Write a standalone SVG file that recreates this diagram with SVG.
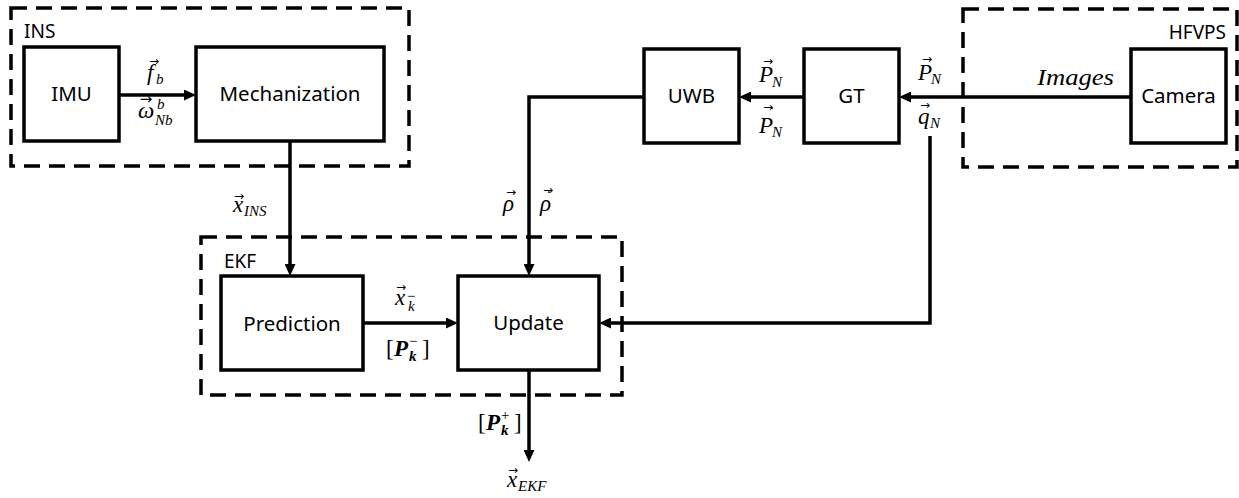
<svg xmlns="http://www.w3.org/2000/svg" width="1239" height="498" viewBox="0 0 1239 498">
<defs>
<style>
.box{fill:#fff;stroke:#000;stroke-width:3.5}
.grp{fill:none;stroke:#000;stroke-width:3.5;stroke-dasharray:16 9}
.conn{fill:none;stroke:#000;stroke-width:3.5}
.lbl{font-family:"Noto Sans","Open Sans",sans-serif;font-size:20.5px;text-anchor:middle;fill:#000}
.glbl{font-family:"Noto Sans","Open Sans",sans-serif;font-size:19px;fill:#000}
.mi{font-family:"Liberation Serif","DejaVu Serif",serif;font-style:italic;font-size:23px;fill:#000}
.ms{font-size:15px}
.mb{font-weight:bold}
.mu{font-style:normal}
.ac{font-family:"DejaVu Sans",sans-serif;font-style:normal;font-size:12px}
.dt{font-style:normal;font-size:17px}
</style>
<marker id="ah" markerUnits="userSpaceOnUse" markerWidth="12" markerHeight="11" refX="6" refY="5.5" orient="auto">
<path d="M0,0 L12,5.5 L0,11 z" fill="#000"/>
</marker>
</defs>
<rect width="1239" height="498" fill="#fff"/>

<g id="group-INS">
<rect class="grp" x="11" y="8" width="398" height="158"/>
<text class="glbl" x="24" y="38">INS</text>
</g>
<g id="group-HFVPS">
<rect class="grp" x="963" y="9" width="274" height="158"/>
<text class="glbl" x="1226" y="39" text-anchor="end">HFVPS</text>
</g>
<g id="group-EKF">
<rect class="grp" x="201" y="237" width="421" height="158"/>
<text class="glbl" x="224" y="268">EKF</text>
</g>

<g id="connectors">
<path class="conn" d="M119,95 H190" marker-end="url(#ah)"/>
<path class="conn" d="M290,141 V270" marker-end="url(#ah)"/>
<path class="conn" d="M644,97 H529 V270" marker-end="url(#ah)"/>
<path class="conn" d="M804,97 H745" marker-end="url(#ah)"/>
<path class="conn" d="M1131,97 H905" marker-end="url(#ah)"/>
<path class="conn" d="M930,136 V323 H605" marker-end="url(#ah)"/>
<path class="conn" d="M363,323 H452" marker-end="url(#ah)"/>
<path class="conn" d="M529,370 V456" marker-end="url(#ah)"/>
</g>

<g id="node-IMU">
<rect class="box" x="24" y="47" width="95" height="94"/>
<text class="lbl" x="71.5" y="101">IMU</text>
</g>
<g id="node-Mechanization">
<rect class="box" x="196" y="47" width="188" height="94"/>
<text class="lbl" x="290" y="101">Mechanization</text>
</g>
<g id="node-UWB">
<rect class="box" x="644" y="49" width="95" height="94"/>
<text class="lbl" x="691.5" y="103">UWB</text>
</g>
<g id="node-GT">
<rect class="box" x="804" y="49" width="95" height="94"/>
<text class="lbl" x="851.5" y="103">GT</text>
</g>
<g id="node-Camera">
<rect class="box" x="1131" y="49" width="95" height="94"/>
<text class="lbl" x="1178.5" y="103">Camera</text>
</g>
<g id="node-Prediction">
<rect class="box" x="221" y="276" width="142" height="94"/>
<text class="lbl" x="292" y="331">Prediction</text>
</g>
<g id="node-Update">
<rect class="box" x="458" y="276" width="141" height="94"/>
<text class="lbl" x="528.5" y="330">Update</text>
</g>

<g id="labels">
<text class="mi"><tspan class="ac" x="149" y="65">→</tspan><tspan x="147" y="80">f</tspan><tspan class="ms" x="156" y="84">b</tspan></text>
<text class="mi"><tspan class="ac" x="139.7" y="104" style="font-size:15px">→</tspan><tspan x="138" y="118">ω</tspan><tspan class="ms" x="157" y="109">b</tspan><tspan class="ms" x="155" y="125">Nb</tspan></text>
<text class="mi"><tspan class="ac" x="234" y="200">→</tspan><tspan x="233" y="212">x</tspan><tspan class="ms" x="244" y="216">INS</tspan></text>
<text class="mi"><tspan class="ac" x="396" y="291">→</tspan><tspan x="395" y="305">x</tspan><tspan class="ms mu" x="407" y="301">−</tspan><tspan class="ms" x="408" y="311">k</tspan></text>
<text class="mi"><tspan class="mu" x="386" y="356">[</tspan><tspan class="mb" x="394" y="356">P</tspan><tspan class="ms mu" x="409" y="346">−</tspan><tspan class="ms mb" x="409" y="361">k</tspan><tspan class="mu" x="422" y="356">]</tspan></text>
<text class="mi"><tspan class="mu" x="478" y="430">[</tspan><tspan class="mb" x="486" y="430">P</tspan><tspan class="ms mu" x="501" y="420">+</tspan><tspan class="ms mb" x="501" y="435">k</tspan><tspan class="mu" x="514" y="430">]</tspan></text>
<text class="mi"><tspan class="ac" x="508" y="474">→</tspan><tspan x="507" y="487">x</tspan><tspan class="ms" x="518" y="491">EKF</tspan></text>
<text class="mi"><tspan class="ac" x="763" y="65">→</tspan><tspan x="759" y="82">P</tspan><tspan class="ms" x="772" y="87">N</tspan></text>
<text class="mi"><tspan class="ac" x="763" y="111">→</tspan><tspan class="dt" x="769" y="118">˙</tspan><tspan x="759" y="133">P</tspan><tspan class="ms" x="772" y="137">N</tspan></text>
<text class="mi"><tspan class="ac" x="922" y="63">→</tspan><tspan x="918" y="80">P</tspan><tspan class="ms" x="931" y="84">N</tspan></text>
<text class="mi"><tspan class="ac" x="920" y="109">→</tspan><tspan x="918" y="124">q</tspan><tspan class="ms" x="930" y="128">N</tspan></text>
<text class="mi"><tspan class="ac" x="506" y="196">→</tspan><tspan x="503" y="211">ρ</tspan></text>
<text class="mi"><tspan class="ac" x="543" y="194">→</tspan><tspan class="dt" x="546" y="202">˙</tspan><tspan x="540" y="211">ρ</tspan></text>
<text class="mi" x="1037" y="85" textLength="77" lengthAdjust="spacingAndGlyphs">Images</text>
</g>
</svg>
